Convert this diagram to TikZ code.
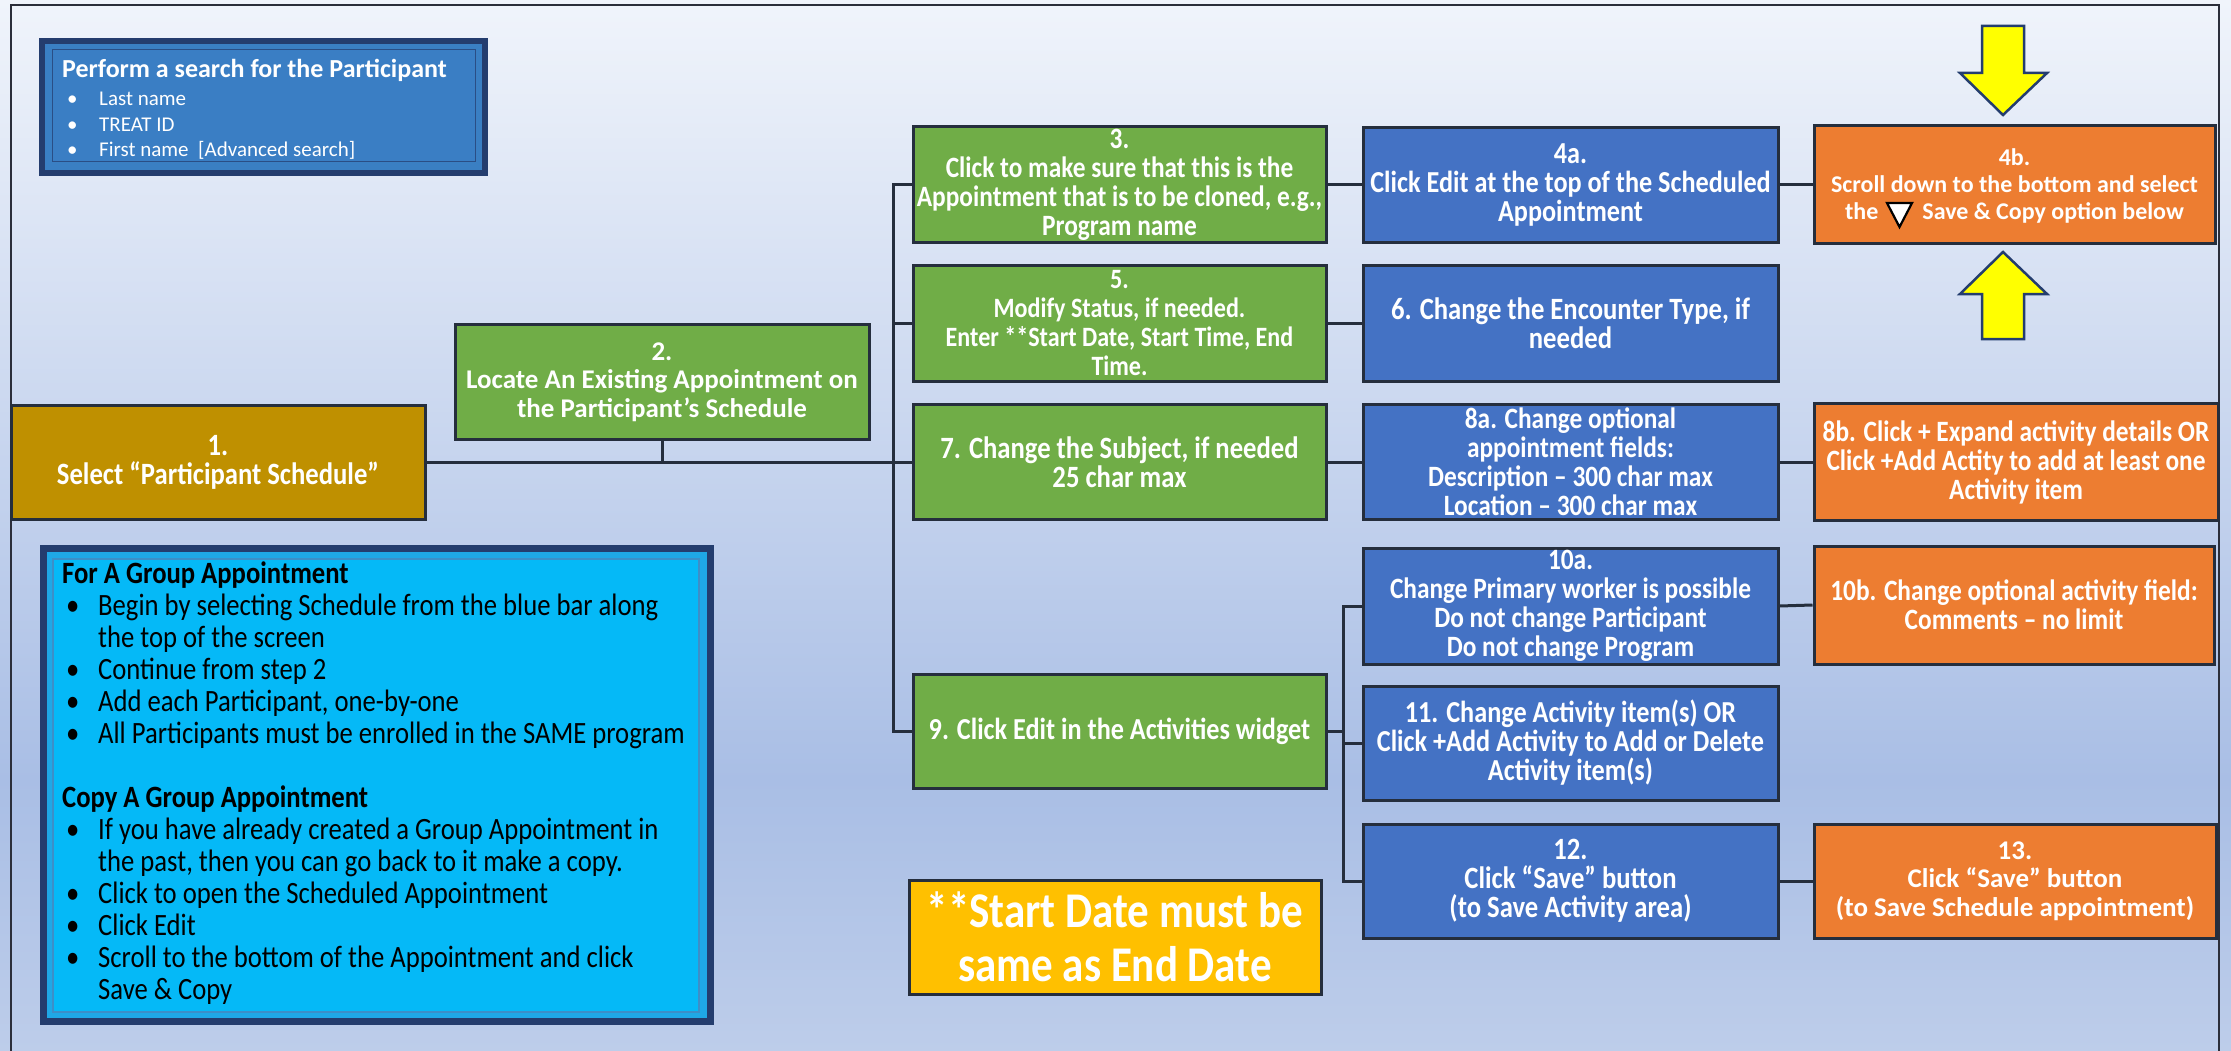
\documentclass[tikz,border=0pt]{standalone}
\usepackage{fontspec}
\setmainfont{Carlito}
\newfontfamily\condf[FakeStretch=0.86]{Carlito}
\definecolor{bgtop}{HTML}{F0F4FB}
\definecolor{bgmid}{HTML}{A9BEE5}
\definecolor{bgbot}{HTML}{BDCDEA}
\definecolor{framecol}{HTML}{2B2E3A}
\definecolor{bordercol}{HTML}{252E3D}
\definecolor{goldc}{HTML}{BF9000}
\definecolor{greenc}{HTML}{70AD47}
\definecolor{bluec}{HTML}{4472C4}
\definecolor{orangec}{HTML}{ED7D31}
\definecolor{notec}{HTML}{FFC000}
\definecolor{navyc}{HTML}{243D6E}
\definecolor{srchmid}{HTML}{3A7FC3}
\definecolor{srchin}{HTML}{3A7EC4}
\definecolor{srchline}{HTML}{2A4E85}
\definecolor{grpmid}{HTML}{1FA8E6}
\definecolor{grpin}{HTML}{05B9F7}
\definecolor{grpline}{HTML}{3C8FC8}
\definecolor{arrowc}{HTML}{FFFF00}
\newcommand\gbul{\makebox[36pt][l]{\hspace*{4pt}\textbullet}}
\newcommand\gind{\hspace*{36pt}}
\newcommand\sbul{\makebox[37pt][l]{\hspace*{5pt}\textbullet}}
\begin{document}
\begin{tikzpicture}[x=1pt,y=-1pt,
  stepbox/.style={draw=bordercol, line width=3, text=white, align=center, inner sep=0},
  fs/.style={font=\condf\bfseries\fontsize{#1}{29}\selectfont},
  wd/.style={font=\bfseries\fontsize{#1}{28.5}\selectfont},
  lineonly/.style={text=white, inner sep=0, anchor=base, font=\bfseries\fontsize{24}{28}\selectfont},
  conn/.style={draw=bordercol, line width=3},
  bigarrow/.style={fill=arrowc, draw=navyc, line width=2.5, line join=miter}]
\useasboundingbox (0,0) rectangle (2231,1051);
% background
\fill[top color=bgtop, bottom color=bgmid] (0,0) rectangle (2231,780);
\fill[top color=bgmid, bottom color=bgbot] (0,779) rectangle (2231,1051);
\draw[framecol, line width=2] (11,1051) -- (11,5) -- (2219,5) -- (2219,1051);

% search box
\fill[navyc] (39,38) rectangle (488,176);
\fill[srchmid] (45,44) rectangle (482,170);
\filldraw[fill=srchin, draw=srchline, line width=1] (52,50) rectangle (475,162);
\node[anchor=north west, align=left, inner sep=0, text=white, font=\fontsize{21}{25.5}\selectfont] (search) at (62,59)
  {{\bfseries\fontsize{26}{26}\selectfont Perform a search for the Participant}\\[3pt]
   \sbul Last name\\
   \sbul TREAT ID\\
   \sbul First name\ \ [Advanced search]};

% group box
\fill[navyc] (40,545) rectangle (714,1025);
\fill[grpmid] (47,552) rectangle (707,1018);
\filldraw[fill=grpin, draw=grpline, line width=1.5] (53,559) rectangle (699,1012);
\node[anchor=north west, align=left, inner sep=0, text=black, font=\condf\fontsize{31}{32}\selectfont] (group) at (62,562)
  {\textbf{For A Group Appointment}\\
   \gbul Begin by selecting Schedule from the blue bar along\\
   \gind the top of the screen\\
   \gbul Continue from step 2\\
   \gbul Add each Participant, one-by-one\\
   \gbul All Participants must be enrolled in the SAME program\\
   \mbox{}\\
   \textbf{Copy A Group Appointment}\\
   \gbul If you have already created a Group Appointment in\\
   \gind the past, then you can go back to it make a copy.\\
   \gbul Click to open the Scheduled Appointment\\
   \gbul Click Edit\\
   \gbul Scroll to the bottom of the Appointment and click\\
   \gind Save \& Copy};

% step boxes
\node[stepbox, fs=31, fill=goldc, minimum width=414, minimum height=114] (b1) at (218,462)
  {1.\\Select “Participant Schedule”};
\node[stepbox, wd=27, fill=greenc, minimum width=414, minimum height=115] (b2) at (662,382)
  {2.\\Locate An Existing Appointment on\\the Participant’s Schedule};
\node[stepbox, fs=29.5, fill=greenc, minimum width=413, minimum height=116] (b3) at (1119.5,185)
  {3.\\Click to make sure that this is the\\Appointment that is to be cloned, e.g.,\\Program name};
\node[stepbox, fs=28, fill=greenc, minimum width=413, minimum height=115] (b5) at (1119.5,323.5)
  {5.\\Modify Status, if needed.\\Enter **Start Date, Start Time, End\\Time.};
\node[stepbox, fs=31, fill=greenc, minimum width=413, minimum height=115] (b7) at (1119.5,462)
  {7. Change the Subject, if needed\\25 char max};
\node[stepbox, fs=30.5, fill=greenc, minimum width=413, minimum height=114] (b9) at (1119.5,731)
  {9. Click Edit in the Activities widget};
\node[stepbox, fs=30.5, fill=bluec, minimum width=415, minimum height=115] (b4a) at (1570.5,185)
  {4a.\\Click Edit at the top of the Scheduled\\Appointment};
\node[stepbox, fs=31, fill=bluec, minimum width=415, minimum height=115] (b6) at (1570.5,323.5)
  {6. Change the Encounter Type, if\\needed};
\node[stepbox, fs=29.5, fill=bluec, minimum width=415, minimum height=115] (b8a) at (1570.5,462)
  {8a. Change optional\\appointment fields:\\Description – 300 char max\\Location – 300 char max};
\node[stepbox, fs=29.5, fill=bluec, minimum width=415, minimum height=116] (b10a) at (1570.5,606)
  {10a.\\Change Primary worker is possible\\Do not change Participant\\Do not change Program};
\node[stepbox, fs=30.5, fill=bluec, minimum width=415, minimum height=114] (b11) at (1570.5,743)
  {11. Change Activity item(s) OR\\Click +Add Activity to Add or Delete\\Activity item(s)};
\node[stepbox, fs=31, fill=bluec, minimum width=415, minimum height=114] (b12) at (1570.5,881)
  {12.\\Click “Save” button\\(to Save Activity area)};
\node[stepbox, fill=orangec, minimum width=401, minimum height=118] (b4b) at (2014.5,185) {};
\node[lineonly] (b4bt1) at (2014.5,166) {4b.};
\node[lineonly] (b4bt2) at (2014.5,193) {Scroll down to the bottom and select};
\node[lineonly] (b4bt3) at (2014.5,220) {the\hspace{44pt}Save \& Copy option below};
\node[stepbox, fs=29.5, fill=orangec, minimum width=404, minimum height=117] (b8b) at (2016,462)
  {8b. Click + Expand activity details OR\\Click +Add Actity to add at least one\\Activity item};
\node[stepbox, fs=29.5, fill=orangec, minimum width=400, minimum height=118] (b10b) at (2014,605)
  {10b. Change optional activity field:\\Comments – no limit};
\node[stepbox, wd=27, fill=orangec, minimum width=402, minimum height=114] (b13) at (2015,881)
  {13.\\Click “Save” button\\(to Save Schedule appointment)};
\node[stepbox, fill=notec, minimum width=412, minimum height=114,
  font=\condf\bfseries\fontsize{50}{54}\selectfont] (note) at (1115,937)
  {**Start Date must be\\same as End Date};

% triangle symbol in 4b
\filldraw[fill=white, draw=black, line width=2.2, line join=miter] (1887,203) -- (1912,203) -- (1899.5,227) -- cycle;

% yellow arrows
\filldraw[bigarrow] (1982,26) -- (2024,26) -- (2024,73) -- (2047,73) -- (2003,115) -- (1960,73) -- (1982,73) -- cycle;
\filldraw[bigarrow] (1982,339) -- (2024,339) -- (2024,294) -- (2047,294) -- (2003,252) -- (1960,294) -- (1982,294) -- cycle;

% connectors
\draw[conn] (b1.east) -- (b7.west);
\draw[conn] (b2.south) -- (b2.south |- b1.east);
\draw[conn] (b3.west) -- ++(-18,0) |- (b9.west);
\draw[conn] (b5.west) -- ++(-18,0);
\draw[conn] (b3.east) -- (b4a.west);
\draw[conn] (b4a.east) -- (b4b.west);
\draw[conn] (b5.east) -- (b6.west);
\draw[conn] (b7.east) -- (b8a.west);
\draw[conn] (b8a.east) -- (b8b.west);
\draw[conn] (b10a.east) -- (b10b.west);
\draw[conn] (b9.east) -- ++(17,0);
\draw[conn] (b10a.west) -- ++(-18,0) |- (b12.west);
\draw[conn] (b11.west) -- ++(-18,0);
\draw[conn] (b12.east) -- (b13.west);
\end{tikzpicture}
\end{document}
